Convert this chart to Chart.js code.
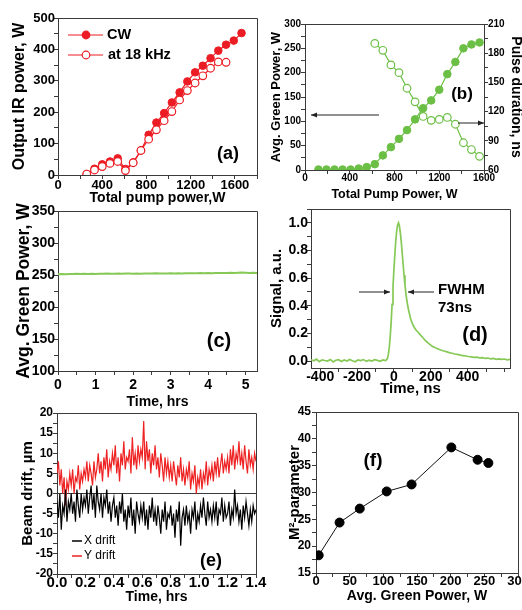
<!DOCTYPE html>
<html><head><meta charset="utf-8">
<script src="https://cdn.jsdelivr.net/npm/chart.js@4.4.1/dist/chart.umd.min.js"></script>
<style>
html,body{margin:0;padding:0;background:#fff;width:522px;height:610px;overflow:hidden}
canvas{position:absolute;left:0;top:0}
</style></head><body>
<canvas id="ca" width="522" height="610"></canvas>
<canvas id="cb" width="522" height="610"></canvas>
<canvas id="cc" width="522" height="610"></canvas>
<canvas id="cd" width="522" height="610"></canvas>
<canvas id="ce" width="522" height="610"></canvas>
<canvas id="cf" width="522" height="610"></canvas>
<script>
// ---------------- DATA ----------------
// (a) output IR power vs total pump power
const pumpPowerA = [260,330,400,470,540,610,680,750,820,890,960,1030,1100,1170,1240,1310,1380,1450,1520,1590,1660];
const irPowerCW  = [3,20,34,43,53,19,40,78,128,167,197,231,263,298,327,348,372,396,415,428,452];
const pumpPowerA18 = [260,330,400,470,540,610,680,750,820,890,960,1030,1100,1170,1240,1310,1380,1450,1520];
const irPower18kHz = [3,16,27,37,43,14,39,78,114,144,173,202,239,269,293,316,340,360,359];

// (b) green power & pulse duration vs pump power
const pumpPowerB = [120,192,264,336,408,480,552,624,696,768,840,912,984,1056,1128,1200,1272,1344,1416,1488,1560];
const greenPowerB = [1,1,1,1,1,3,6,12,30,47,64,82,104,127,143,165,197,222,250,258,262];
const pumpPowerPulse = [624,696,768,840,912,984,1056,1128,1200,1272,1344,1416,1488,1560];
const pulseDurationNs = [190,183,168,160,144,130,115,111,112,114,107,88,81,74];

// (c) green power stability, samples every 0.1 h
const stabilityPower = [251.3,251.6,251.2,251.7,251.5,251.9,251.4,251.8,251.6,252.0,
  251.7,252.1,251.8,252.2,251.9,252.1,252.3,251.9,252.2,252.4,
  252.0,252.3,252.1,252.5,252.2,252.4,252.6,252.3,252.5,252.2,
  252.6,252.4,252.7,252.5,252.8,252.6,252.9,252.7,253.0,252.8,
  253.1,252.9,253.2,253.0,253.3,253.1,253.5,253.3,253.7,254.0,
  253.6,253.3,253.5,253.2];
const stabilityTimeStep = 0.1;

// (d) pulse shape
const pulseTimeNs = [-450,-435,-420,-405,-390,-375,-360,-345,-330,-315,-300,-285,-270,-255,-240,-225,-210,-195,-180,-165,-150,-135,-120,-105,-90,-75,-60,-45,
  -40,-35,-30,-25,-20,-15,-10,-5,0,5,10,15,20,25,30,35,40,45,50,55,60,65,70,75,80,90,100,110,120,130,140,150,160,170,180,190,200,
  210,225,240,255,270,285,300,315,330,345,360,375,390,405,420,435,450,465,480,495,510,525,540,555,570,585,600,615,630];
const pulseSignal = [0.010,0.002,0.014,-0.004,0.009,0.004,0.000,0.012,-0.006,0.006,0.010,-0.003,0.008,0.001,0.012,0.003,-0.005,0.009,0.004,0.011,-0.002,0.007,0.000,0.010,0.005,-0.002,0.008,0.004,
  0.010,0.020,0.050,0.100,0.180,0.280,0.410,0.540,0.660,0.770,0.870,0.940,0.985,1.000,0.975,0.925,0.860,0.780,0.700,0.620,0.550,0.490,0.440,0.400,0.365,0.310,0.270,0.245,0.225,0.210,0.195,0.180,0.165,0.150,0.138,0.126,0.115,
  0.106,0.096,0.088,0.080,0.073,0.068,0.061,0.057,0.051,0.048,0.043,0.040,0.037,0.033,0.031,0.027,0.029,0.023,0.025,0.019,0.022,0.016,0.019,0.013,0.016,0.012,0.015,0.009,0.012];

// (e) beam drift, samples every 0.01 h
const driftTimeStep = 0.01;
const xDrift = [-2,-6,0,-9,-3,-5,1,-7,-2,-4,
  0,-5,-2,-7,1,-3,-6,0,-4,-1,
  -3,1,-5,-1,2,-4,0,-6,2,-2,
  -4,0,-6,-1,-3,1,-5,-2,-7,-3,
  -1,-6,-3,-8,-2,-5,0,-7,-4,-9,
  -3,-6,-1,-8,-4,-10,-2,-5,-7,-3,
  -6,-2,-8,-4,-9,-3,-6,-1,-7,-4,
  -8,-3,-6,-10,-4,-7,-2,-9,-5,-6,
  -3,-8,-5,-11,-4,-7,-2,-13,-6,-4,
  -8,-3,-7,-5,-10,-4,-6,-2,-9,-5,
  -7,-3,-6,-1,-5,-8,-2,-6,-4,-7,
  -3,-6,-2,-8,-4,-5,-1,-7,-3,-6,
  -5,-2,-8,-4,-6,1,-5,-3,-7,-4,
  -9,-3,-6,-2,-5,-8,-4,-7,-3,-5,
  -4];
const yDrift = [5,8,2,6,0,4,-3,3,1,5,
  2,6,0,4,3,7,1,5,3,6,
  4,8,3,7,5,2,8,4,6,10,
  5,8,3,9,6,11,4,8,6,10,
  7,12,5,9,3,10,7,13,6,9,
  8,11,5,14,7,10,6,12,8,11,
  9,18,6,13,8,11,5,10,7,12,
  6,9,4,10,7,3,9,5,8,4,
  7,3,8,5,2,7,4,9,3,6,
  2,6,4,8,1,5,3,7,0,4,
  2,6,1,5,3,8,2,6,4,7,
  3,8,5,9,4,7,10,5,8,6,
  9,5,11,7,12,6,10,8,13,7,
  10,6,12,8,5,11,7,9,6,10,
  8];

// (f) M2 vs green power
const greenPowerF = [4,35,65,105,142,201,240,256];
const m2Param = [18.3,24.4,27.0,30.2,31.5,38.4,36.1,35.5];

// ---------------- HELPERS ----------------
const FONT = "'Liberation Sans', Arial, Helvetica, sans-serif";
const AX = '#3a3a3a';
const RED = '#ec1c24';
const GREEN = '#6cbf45';
const GREEN_LINE = '#86c956';
const W = 522, H = 610;

function pts(xs, ys){ return ys.map((y,i)=>({x:xs[i], y:y})); }
function al(p){ return Math.round(p-0.5)+0.5; }

function axis(o, pos, size){
  const horiz = (pos==='bottom');
  return {
    type:'linear', position:pos, min:o.min, max:o.max,
    border:{display:true, color:AX, width:1},
    grid:{drawOnChartArea:false, drawTicks:true, tickLength:4, tickColor:AX, tickWidth:1, color:AX},
    ticks:{stepSize:o.minor, autoSkip:false, includeBounds:false, maxRotation:0, minRotation:0,
      padding:o.pad, color:'#000', font:{family:FONT, size:o.fs, weight:'bold'},
      callback:(v)=>{ const r=v/o.major;
        if (o.labelMax!==undefined && v>o.labelMax) return '';
        return Math.abs(r-Math.round(r))<1e-6 ? Number(v).toFixed(o.dec||0) : ''; }},
    title:{display:true, text:o.title, color:'#000', padding:{top:o.tpad||0,bottom:0},
      font:{family:FONT, size:o.tfs, weight:'bold'}},
    afterFit:(s)=>{ if(horiz) s.height=size; else s.width=size;
      s.paddingLeft=0; s.paddingRight=0; s.paddingTop=0; s.paddingBottom=0; }
  };
}

function arrow(ctx,x1,y1,x2,y2){
  ctx.beginPath(); ctx.moveTo(x1,y1); ctx.lineTo(x2,y2); ctx.stroke();
  const a=Math.atan2(y2-y1,x2-x1), L=6, w=2.6;
  ctx.beginPath();
  ctx.moveTo(x2,y2);
  ctx.lineTo(x2-L*Math.cos(a)+w*Math.sin(a), y2-L*Math.sin(a)-w*Math.cos(a));
  ctx.lineTo(x2-L*Math.cos(a)-w*Math.sin(a), y2-L*Math.sin(a)+w*Math.cos(a));
  ctx.closePath(); ctx.fill();
}

function decoPlugin(d){
  return {
    id:'deco',
    beforeDatasetsDraw(chart){
      const ctx=chart.ctx, a=chart.chartArea;
      (d.hlines||[]).forEach(h=>{
        const y=al(chart.scales[h.axis].getPixelForValue(h.value));
        ctx.save(); ctx.strokeStyle=AX; ctx.lineWidth=1;
        ctx.beginPath(); ctx.moveTo(a.left,y); ctx.lineTo(a.right,y); ctx.stroke(); ctx.restore();
      });
    },
    afterDatasetsDraw(chart){
      const ctx=chart.ctx, a=chart.chartArea;
      ctx.save();
      ctx.strokeStyle=AX; ctx.lineWidth=1;
      const l=al(a.left), t=al(a.top), r=al(a.right), b=al(a.bottom);
      ctx.beginPath(); ctx.moveTo(l,t); ctx.lineTo(r,t); ctx.lineTo(r,b); ctx.stroke();
      ctx.strokeStyle='#222'; ctx.fillStyle='#222'; ctx.lineWidth=1;
      (d.arrows||[]).forEach(ar=>arrow(ctx,ar[0],ar[1],ar[2],ar[3]));
      (d.legend||[]).forEach(it=>{
        ctx.strokeStyle=it.color; ctx.lineWidth=it.lw||1.2;
        ctx.beginPath(); ctx.moveTo(it.x1,it.y); ctx.lineTo(it.x2,it.y); ctx.stroke();
        if(it.marker){
          ctx.beginPath(); ctx.arc(it.mx,it.y,it.r,0,Math.PI*2);
          ctx.fillStyle=it.marker==='filled'?it.color:'#fff'; ctx.fill();
          ctx.lineWidth=1.2; ctx.stroke();
        }
        ctx.fillStyle='#000'; ctx.textAlign='left'; ctx.textBaseline='middle';
        ctx.font=(it.weight||'bold')+' '+it.fs+'px '+FONT;
        ctx.fillText(it.text,it.tx,it.y);
      });
      (d.texts||[]).forEach(tx=>{
        ctx.fillStyle='#000'; ctx.textAlign=tx.align||'center'; ctx.textBaseline='middle';
        ctx.font='bold '+tx.fs+'px '+FONT;
        ctx.fillText(tx.text,tx.x,tx.y);
      });
      ctx.restore();
    }
  };
}

function panel(id, box, xo, yo, y2o, datasets, deco){
  const padLeft = box.yTx - 0.6*box.yFs;
  const Wy = box.L - padLeft;
  const Hx = box.xTy + 0.6*box.xFs - box.B;
  const padBottom = H - box.B - Hx;
  let padRight = W - box.R;
  xo.tfs = box.xFs; yo.tfs = box.yFs;
  const scales = { x: axis(xo,'bottom',Hx), y: axis(yo,'left',Wy) };
  if (y2o){
    padRight = 0;
    y2o.tfs = box.rFs;
    y2o.tpad = (W - box.rTx) - 0.6*box.rFs;
    scales.y2 = axis(y2o,'right', W - box.R);
  }
  new Chart(document.getElementById(id), {
    type:'scatter',
    data:{datasets},
    options:{
      responsive:false, animation:false, events:[],
      layout:{autoPadding:false, padding:{left:padLeft, top:box.T, right:padRight, bottom:padBottom}},
      plugins:{legend:{display:false}, tooltip:{enabled:false}},
      scales
    },
    plugins:[decoPlugin(deco)]
  });
}

// ---------------- PANELS ----------------
// (a)
panel('ca', {L:58,R:257,T:18,B:175,yTx:19.5,yFs:16,xTy:198,xFs:14},
  {min:0,max:1800,major:400,minor:200,fs:13,pad:-1,title:'Total pump power,W'},
  {min:0,max:500,major:100,minor:50,fs:13,pad:-1,title:'Output IR power, W'},
  null,
  [
    {data:pts(pumpPowerA18, irPower18kHz), showLine:true, borderColor:RED, borderWidth:1.2,
     pointRadius:3.8, pointBackgroundColor:'#fff', pointBorderColor:RED, pointBorderWidth:1.2},
    {data:pts(pumpPowerA, irPowerCW), showLine:true, borderColor:RED, borderWidth:1.2,
     pointRadius:3.8, pointBackgroundColor:RED, pointBorderColor:RED, pointBorderWidth:1}
  ],
  {texts:[{text:'(a)',x:228,y:154,fs:18}],
   legend:[
     {x1:68,x2:103,y:35,mx:86,r:3.8,color:RED,marker:'filled',text:'CW',tx:107,fs:14.5},
     {x1:68,x2:103,y:55,mx:86,r:3.8,color:RED,marker:'open',text:'at 18 kHz',tx:108,fs:14.5}
   ]}
);

// (b)
panel('cb', {L:305,R:484,T:24,B:170,yTx:276,yFs:13,xTy:195,xFs:12.5,rTx:516,rFs:14},
  {min:0,max:1600,major:400,minor:200,fs:10,pad:-2,title:'Total Pump Power, W'},
  {min:0,max:300,major:50,minor:25,fs:10,pad:0,title:'Avg. Green Power, W'},
  {min:60,max:210,major:30,minor:15,fs:10,pad:0,title:'Pulse duration, ns'},
  [
    {data:pts(pumpPowerB, greenPowerB), yAxisID:'y', showLine:true, borderColor:GREEN, borderWidth:1.2,
     pointRadius:3.8, pointBackgroundColor:GREEN, pointBorderColor:GREEN, pointBorderWidth:1},
    {data:pts(pumpPowerPulse, pulseDurationNs), yAxisID:'y2', showLine:true, borderColor:GREEN, borderWidth:1.2,
     pointRadius:3.8, pointBackgroundColor:'#fff', pointBorderColor:GREEN, pointBorderWidth:1.2}
  ],
  {texts:[{text:'(b)',x:462,y:94,fs:17}],
   arrows:[[379,115,311,115],[458,123,484,123]]}
);

// (c)
panel('cc', {L:58,R:257,T:211,B:371,yTx:24,yFs:17.5,xTy:402,xFs:14},
  {min:0,max:5.3,major:1,minor:0.5,fs:14,pad:2,title:'Time, hrs'},
  {min:100,max:350,major:50,minor:25,fs:14,pad:-1,title:'Avg. Green Power, W'},
  null,
  [
    {data:stabilityPower.map((v,i)=>({x:i*stabilityTimeStep, y:v})), showLine:true,
     borderColor:GREEN_LINE, borderWidth:2, pointRadius:0}
  ],
  {texts:[{text:'(c)',x:219,y:341,fs:20}]}
);

// (d)
panel('cd', {L:311,R:510,T:209,B:368,yTx:277,yFs:15,xTy:389,xFs:15},
  {min:-450,max:630,major:200,minor:100,fs:14,pad:-3,labelMax:400,title:'Time, ns'},
  {min:-0.05,max:1.1,major:0.2,minor:0.1,fs:14,pad:-1,dec:1,title:'Signal, a.u.'},
  null,
  [
    {data:pts(pulseTimeNs, pulseSignal), showLine:true, borderColor:GREEN_LINE, borderWidth:1.7, pointRadius:0}
  ],
  {texts:[{text:'(d)',x:475,y:335,fs:20},{text:'FWHM',x:438,y:290,fs:15,align:'left'},{text:'73ns',x:438,y:308,fs:15,align:'left'}],
   arrows:[[359,292,390,292],[434,292,408,292]]}
);

// (e)
panel('ce', {L:57,R:256,T:413,B:574,yTx:27.5,yFs:15,xTy:597,xFs:14},
  {min:0,max:1.4,major:0.2,minor:0.1,fs:15,pad:-4,dec:1,title:'Time, hrs'},
  {min:-20,max:20,major:5,minor:2.5,fs:12,pad:0,title:'Beam drift, \u00b5m'},
  null,
  [
    {data:xDrift.map((v,i)=>({x:i*driftTimeStep, y:v})), showLine:true, borderColor:'#000', borderWidth:1.2, pointRadius:0},
    {data:yDrift.map((v,i)=>({x:i*driftTimeStep, y:v})), showLine:true, borderColor:'#ee2222', borderWidth:1.2, pointRadius:0}
  ],
  {texts:[{text:'(e)',x:211,y:561,fs:18}],
   hlines:[{axis:'y',value:0}],
   legend:[
     {x1:72,x2:82,y:541,color:'#000',text:'X drift',tx:84,fs:12,weight:'normal',lw:1.5},
     {x1:72,x2:82,y:556,color:'#ee2222',text:'Y drift',tx:84,fs:12,weight:'normal',lw:1.5}
   ]}
);

// (f)
panel('cf', {L:316,R:518,T:412,B:573,yTx:295,yFs:15,xTy:596,xFs:14},
  {min:0,max:300,major:50,minor:25,fs:13,pad:-3,title:'Avg. Green Power, W'},
  {min:15,max:45,major:5,minor:2.5,fs:12,pad:1,title:'M\u00b2-parameter'},
  null,
  [
    {data:pts(greenPowerF, m2Param), showLine:true, borderColor:'#111', borderWidth:1,
     pointRadius:4.5, pointBackgroundColor:'#000', pointBorderColor:'#000'}
  ],
  {texts:[{text:'(f)',x:373,y:461,fs:19}]}
);
</script>
</body></html>
